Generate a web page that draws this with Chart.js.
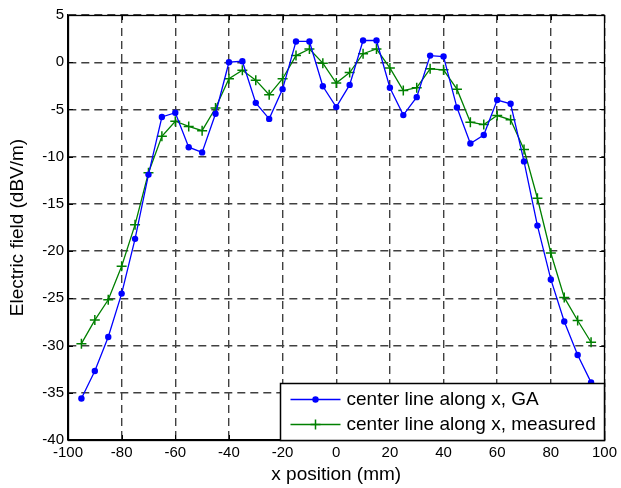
<!DOCTYPE html>
<html>
<head>
<meta charset="utf-8">
<title>Electric field along center line</title>
<script src="https://cdn.jsdelivr.net/npm/chart.js"></script>
<style>
  body { margin: 0; background: #fff; }
  #wrap { width: 621px; height: 488px; }
</style>
</head>
<body>
<div id="wrap"><canvas id="fieldChart" width="621" height="488"></canvas></div>
<script>
// --- DATA ---
const xPositions = [
  -95, -90, -85, -80, -75, -70, -65, -60, -55, -50,
  -45, -40, -35, -30, -25, -20, -15, -10, -5, 0,
  5, 10, 15, 20, 25, 30, 35, 40, 45, 50,
  55, 60, 65, 70, 75, 80, 85, 90, 95
];

// GA (simulated) values, dBV/m
const gaValues = [
  -35.6, -32.7, -29.1, -24.5, -18.7, -11.9, -5.8, -5.35, -9.0, -9.55,
  -5.45, 0.0, 0.1, -4.3, -6.0, -2.85, 2.2, 2.2, -2.55, -4.75,
  -2.4, 2.3, 2.3, -2.7, -5.6, -3.7, 0.7, 0.6, -4.8, -8.6,
  -7.7, -4.0, -4.4, -10.5, -17.3, -23.0, -27.45, -31.0, -33.9
];

// measured values, dBV/m
const measuredValues = [
  -29.8, -27.3, -25.15, -21.6, -17.2, -11.7, -7.85, -6.25, -6.8, -7.25,
  -4.85, -1.75, -0.85, -1.9, -3.45, -1.75, 0.7, 1.4, -0.1, -2.2,
  -1.1, 0.9, 1.4, -0.6, -3.0, -2.7, -0.7, -0.8, -2.85, -6.35,
  -6.6, -5.65, -6.1, -9.25, -14.4, -20.2, -24.9, -27.35, -29.65
];

const seriesLabels = ['center line along x, GA', 'center line along x, measured'];
const xAxisTitle = 'x position (mm)';
const yAxisTitle = 'Electric field (dBV/m)';

const FONT = "'Liberation Sans', Arial, sans-serif";

function toPoints(xs, ys) {
  return xs.map((x, i) => ({ x: x, y: ys[i] }));
}

// --- PLUGINS ---
// box on all four sides + inward tick marks (matlab style)
const boxTicksPlugin = {
  id: 'boxTicks',
  afterDatasetsDraw(chart) {
    const { ctx, chartArea: a, scales } = chart;
    const len = 5;
    ctx.save();
    ctx.strokeStyle = '#000';
    ctx.lineWidth = 1;
    ctx.beginPath();
    scales.x.ticks.forEach(t => {
      const px = Math.round(scales.x.getPixelForValue(t.value)) + 0.5;
      ctx.moveTo(px, a.bottom); ctx.lineTo(px, a.bottom - len);
      ctx.moveTo(px, a.top); ctx.lineTo(px, a.top + len);
    });
    scales.y.ticks.forEach(t => {
      const py = Math.round(scales.y.getPixelForValue(t.value)) + 0.5;
      ctx.moveTo(a.left, py); ctx.lineTo(a.left + len, py);
      ctx.moveTo(a.right, py); ctx.lineTo(a.right - len, py);
    });
    ctx.stroke();
    ctx.lineWidth = 1.3;
    ctx.strokeRect(Math.round(a.left) + 0.5, Math.round(a.top) + 0.5,
      Math.round(a.right - a.left), Math.round(a.bottom - a.top));
    ctx.restore();
  }
};

// legend box inside the plot, bottom right
const insideLegendPlugin = {
  id: 'insideLegend',
  afterDraw(chart) {
    const { ctx, chartArea: a } = chart;
    const w = 324, h = 57;
    const bx = Math.round(a.right - w) + 0.5;
    const by = Math.round(a.bottom - h) + 0.5;
    ctx.save();
    ctx.fillStyle = '#fff';
    ctx.fillRect(bx, by, w, h);
    ctx.strokeStyle = '#000';
    ctx.lineWidth = 1.5;
    ctx.strokeRect(bx, by, w, h);

    chart.data.datasets.forEach((ds, i) => {
      const rowY = by + 16 + i * 25;
      ctx.strokeStyle = ds.borderColor;
      ctx.lineWidth = ds.borderWidth;
      ctx.beginPath();
      ctx.moveTo(bx + 10, rowY);
      ctx.lineTo(bx + 60, rowY);
      ctx.stroke();
      const mx = bx + 35;
      if (ds.pointStyle === 'cross') {
        const r = ds.pointRadius;
        ctx.lineWidth = ds.pointBorderWidth;
        ctx.beginPath();
        ctx.moveTo(mx - r, rowY); ctx.lineTo(mx + r, rowY);
        ctx.moveTo(mx, rowY - r); ctx.lineTo(mx, rowY + r);
        ctx.stroke();
      } else {
        ctx.fillStyle = ds.pointBackgroundColor;
        ctx.beginPath();
        ctx.arc(mx, rowY, ds.pointRadius, 0, Math.PI * 2);
        ctx.fill();
      }
      ctx.fillStyle = '#000';
      ctx.font = '19px ' + FONT;
      ctx.textBaseline = 'middle';
      ctx.textAlign = 'left';
      ctx.fillText(ds.label, bx + 66, rowY);
    });
    ctx.restore();
  }
};

// --- CHART ---
function renderChart() {
  const ctx = document.getElementById('fieldChart').getContext('2d');
  return new Chart(ctx, {
    type: 'line',
    data: {
      datasets: [
        {
          label: seriesLabels[0],
          data: toPoints(xPositions, gaValues),
          borderColor: '#0000ff',
          backgroundColor: '#0000ff',
          pointBackgroundColor: '#0000ff',
          pointBorderColor: '#0000ff',
          borderWidth: 1.3,
          pointStyle: 'circle',
          pointRadius: 3.2,
          pointBorderWidth: 0,
          tension: 0
        },
        {
          label: seriesLabels[1],
          data: toPoints(xPositions, measuredValues),
          borderColor: '#008000',
          backgroundColor: '#008000',
          pointBackgroundColor: '#008000',
          pointBorderColor: '#008000',
          borderWidth: 1.3,
          pointStyle: 'cross',
          pointRadius: 5,
          pointBorderWidth: 1.5,
          tension: 0
        }
      ]
    },
    options: {
      responsive: false,
      animation: false,
      layout: { padding: { left: 0, right: 14, top: 15, bottom: 0 } },
      plugins: {
        legend: { display: false },
        tooltip: { enabled: false }
      },
      scales: {
        x: {
          type: 'linear',
          min: -100,
          max: 100,
          afterFit: s => { s.height = 48; },
          ticks: {
            stepSize: 20,
            color: '#000',
            padding: 4,
            maxRotation: 0,
            font: { family: FONT, size: 15 }
          },
          grid: { color: '#404040', lineWidth: 1.4, drawTicks: false },
          border: { color: '#000', width: 1.3, dash: [8, 5] },
          title: {
            display: true,
            text: xAxisTitle,
            color: '#000',
            font: { family: FONT, size: 19 },
            padding: { top: 1.6, bottom: 1.6 }
          }
        },
        y: {
          type: 'linear',
          min: -40,
          max: 5,
          afterFit: s => { s.width = 68; },
          ticks: {
            stepSize: 5,
            color: '#000',
            padding: 4,
            font: { family: FONT, size: 15 }
          },
          grid: { color: '#404040', lineWidth: 1.4, drawTicks: false },
          border: { color: '#000', width: 1.3, dash: [8, 5] },
          title: {
            display: true,
            text: yAxisTitle,
            color: '#000',
            font: { family: FONT, size: 19 },
            padding: { top: 6.6, bottom: 6.6 }
          }
        }
      }
    },
    plugins: [boxTicksPlugin, insideLegendPlugin]
  });
}

document.addEventListener('DOMContentLoaded', () => {
  renderChart();
});
</script>
</body>
</html>
